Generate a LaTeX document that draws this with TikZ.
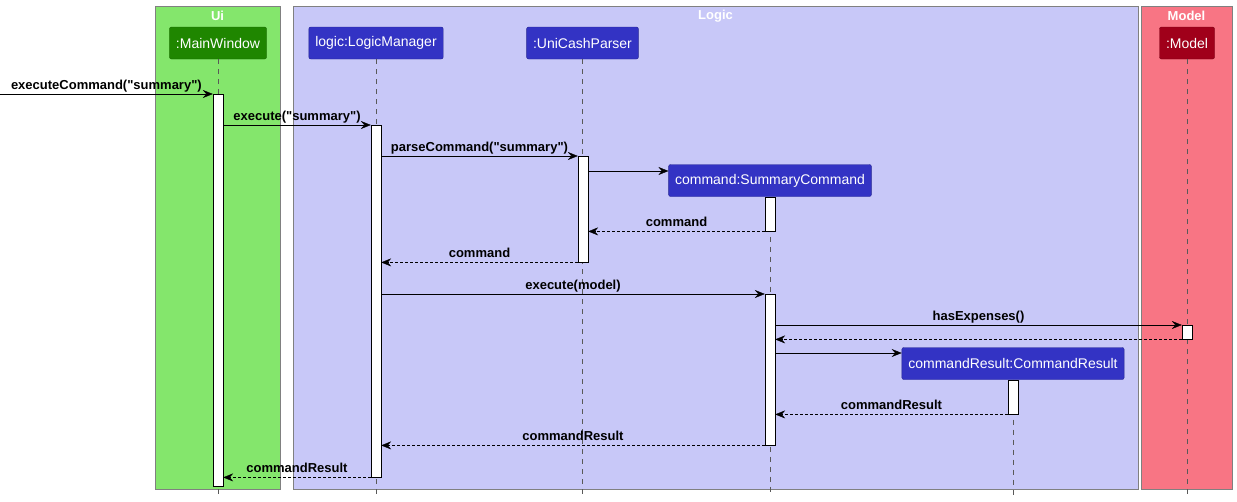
\documentclass[tikz,border=0pt]{standalone}
\usepackage{fontspec}
\newfontfamily\umlfont{Liberation Sans}
\usetikzlibrary{arrows.meta}

\definecolor{uiback}{HTML}{84E66C}
\definecolor{logicback}{HTML}{C8C8F8}
\definecolor{modelback}{HTML}{F87584}
\definecolor{uibox}{HTML}{1F8600}
\definecolor{logicbox}{HTML}{3333C4}
\definecolor{modelbox}{HTML}{A0001A}

\tikzset{
  lane/.style={draw=gray, fill=#1},
  lanetitle/.style={text=white, font=\umlfont\bfseries\fontsize{13}{15}\selectfont},
  actor/.style={draw=#1!75!black, fill=#1, rounded corners=2pt, text=white,
    minimum height=32pt, inner xsep=6.5pt, font=\umlfont\fontsize{14}{16}\selectfont},
  activation/.style={draw=black, fill=white, minimum width=10pt, inner sep=0pt},
  life/.style={gray!70!black, dash pattern=on 5pt off 5pt},
  msg/.style={-{Stealth[length=10pt,width=8pt,inset=3.5pt]}, black},
  ret/.style={msg, densely dashed},
  lbl/.style={above, inner sep=2pt, text depth=2.8pt,
    font=\umlfont\bfseries\fontsize{13}{15}\selectfont},
}

\begin{document}
\begin{tikzpicture}[x=1pt, y=-1pt]
  \useasboundingbox (0,0) rectangle (1237,501);

  % boxes
  \draw[lane=uiback] (155,6) rectangle (280,489);
  \draw[lane=logicback] (293,6) rectangle (1138,489);
  \draw[lane=modelback] (1141,6) rectangle (1232,489);
  \node[lanetitle] (tUi) at (217.5,16) {Ui};
  \node[lanetitle] (tLogic) at (715.5,16) {Logic};
  \node[lanetitle] (tModel) at (1186.5,16) {Model};

  % participants
  \node[actor=uibox] (mw) at (218,43) {:MainWindow};
  \node[actor=logicbox] (lm) at (376,43) {logic:LogicManager};
  \node[actor=logicbox] (up) at (582.5,43) {:UniCashParser};
  \node[actor=modelbox] (md) at (1187,43) {:Model};
  \node[actor=logicbox] (cmd) at (770,180.5) {command:SummaryCommand};
  \node[actor=logicbox] (res) at (1013,363.5) {commandResult:CommandResult};

  % lifelines
  \draw[life] (mw.south) -- (218,495);
  \draw[life] (lm.south) -- (376,495);
  \draw[life] (up.south) -- (582.5,495);
  \draw[life] (md.south) -- (1187,495);
  \draw[life] (cmd.south) -- (770,495);
  \draw[life] (res.south) -- (1013,495);

  % activations
  \node[activation, anchor=north, minimum height=392pt] (actMW) at (218,94) {};
  \node[activation, anchor=north, minimum height=352pt] (actLM) at (376,125) {};
  \node[activation, anchor=north, minimum height=106pt] (actUP) at (583,156) {};
  \node[activation, anchor=north, minimum height=34pt] (actSC1) at (770,197) {};
  \node[activation, anchor=north, minimum height=151pt] (actSC2) at (770,294) {};
  \node[activation, anchor=north, minimum height=14pt] (actMD) at (1187,325) {};
  \node[activation, anchor=north, minimum height=34pt] (actCR) at (1013,380) {};

  \coordinate (entry) at (0,94);
  \coordinate (cmdIn) at ([yshift=9.5pt]cmd.west);
  \coordinate (resIn) at ([yshift=10.5pt]res.west);

  % messages
  \draw[msg] (entry) -- node[lbl]{executeCommand("summary")} (actMW.north west);
  \draw[msg] (actMW.east |- actLM.north) -- node[lbl]{execute("summary")} (actLM.north west);
  \draw[msg] (actLM.east |- actUP.north) -- node[lbl]{parseCommand("summary")} (actUP.north west);
  \draw[msg] (actUP.east |- cmdIn) -- (cmdIn);
  \draw[ret] (actSC1.south west) -- node[lbl]{command} (actUP.east |- actSC1.south);
  \draw[ret] (actUP.south west) -- node[lbl]{command} (actLM.east |- actUP.south);
  \draw[msg] (actLM.east |- actSC2.north) -- node[lbl]{execute(model)} (actSC2.north west);
  \draw[msg] (actSC2.east |- actMD.north) -- node[lbl]{hasExpenses()} (actMD.north west);
  \draw[ret] (actMD.south west) -- (actSC2.east |- actMD.south);
  \draw[msg] (actSC2.east |- resIn) -- (resIn);
  \draw[ret] (actCR.south west) -- node[lbl]{commandResult} (actSC2.east |- actCR.south);
  \draw[ret] (actSC2.south west) -- node[lbl]{commandResult} (actLM.east |- actSC2.south);
  \draw[ret] (actLM.south west) -- node[lbl]{commandResult} (actMW.east |- actLM.south);
\end{tikzpicture}
\end{document}
